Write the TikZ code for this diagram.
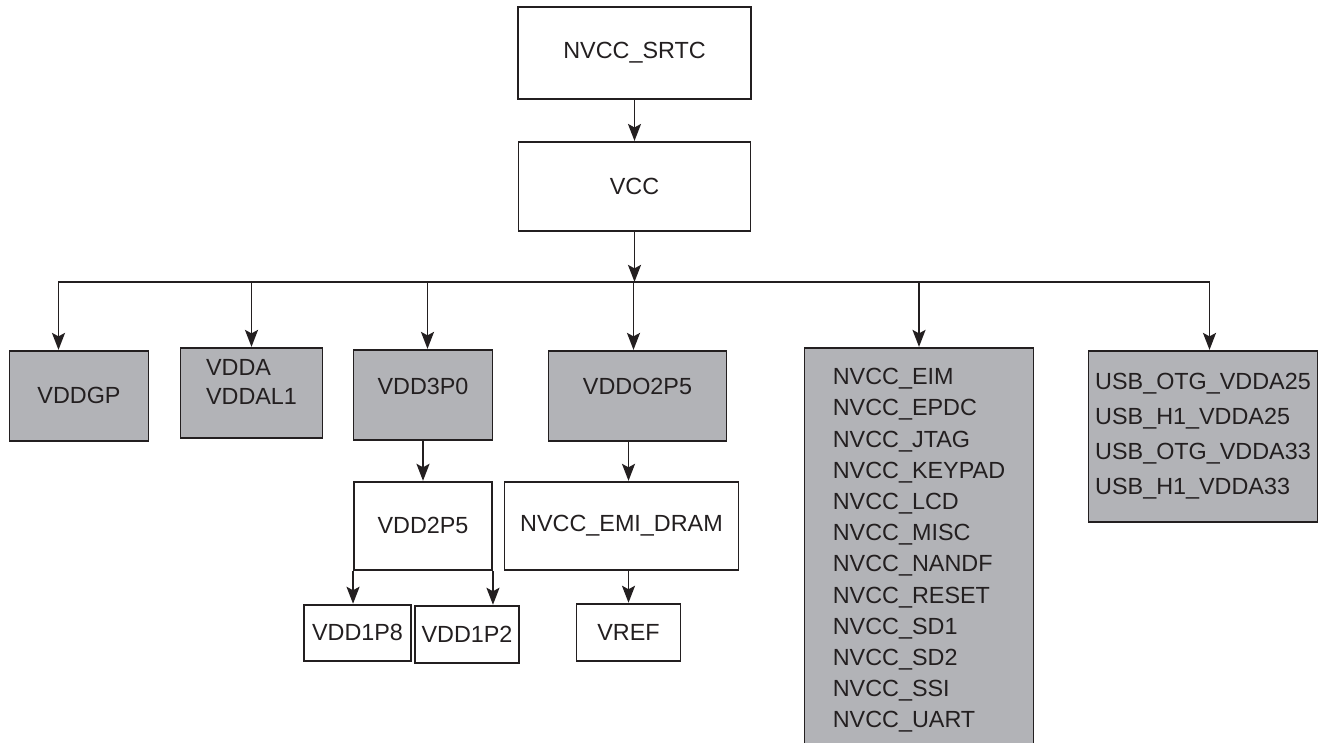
\documentclass[tikz,border=0pt]{standalone}
\usepackage{fontspec}
\setmainfont{Liberation Sans}
\usepackage{xcolor}
\usepackage{tikz}
\usetikzlibrary{arrows.meta, positioning}
\definecolor{railgray}{RGB}{178,179,183}
\definecolor{inkcolor}{RGB}{35,31,32}

\begin{document}
\begin{tikzpicture}[
  node distance=0.8cm,
  box/.style={rectangle, draw=inkcolor, line width=1.1pt, fill=white,
              inner sep=2pt, text=inkcolor,
              font=\fontsize{13.3}{16}\selectfont},
  rail/.style={box, fill=railgray},
  arrow/.style={-{Stealth[length=0.34cm, width=0.26cm, inset=0.07cm]},
                line width=1.1pt, draw=inkcolor},
]
\useasboundingbox (0,0) rectangle (26.36,-14.84);
\clip (0,0) rectangle (26.36,-14.84);

\node[box, minimum width=4.66cm, minimum height=1.84cm, text depth=0.12cm] (srtc) at (12.69,-1.06) {NVCC\_SRTC};
\node[box, minimum width=4.64cm, minimum height=1.78cm, below=0.82cm of srtc] (vcc) {VCC};
\coordinate[below=1.0cm of vcc] (bus);

\node[rail, minimum width=2.78cm, minimum height=1.8cm, below=2.36cm of vcc, xshift=-11.11cm] (vddgp) {VDDGP};
\node[rail, align=left, font=\fontsize{13.3}{16.5}\selectfont, text depth=0.44cm,
      minimum width=2.84cm, minimum height=1.8cm, below=2.30cm of vcc, xshift=-7.66cm] (vdda) {VDDA\\VDDAL1};
\node[rail, minimum width=2.78cm, minimum height=1.8cm, text depth=0.36cm,
      below=2.34cm of vcc, xshift=-4.23cm] (vdd3p0) {VDD3P0};
\node[rail, minimum width=3.56cm, minimum height=1.8cm, text depth=0.38cm,
      below=2.36cm of vcc, xshift=0.06cm] (vddo2p5) {VDDO2P5};
\node[rail, align=left, font=\fontsize{13.3}{17.75}\selectfont,
      minimum width=4.58cm, minimum height=8.1cm, below=2.30cm of vcc, xshift=5.69cm] (nvcc)
     {NVCC\_EIM\\NVCC\_EPDC\\NVCC\_JTAG\\NVCC\_KEYPAD\\NVCC\_LCD\\NVCC\_MISC\\
      NVCC\_NANDF\\NVCC\_RESET\\NVCC\_SD1\\NVCC\_SD2\\NVCC\_SSI\\NVCC\_UART};
\node[rail, align=left, font=\fontsize{13.3}{20}\selectfont,
      minimum width=4.58cm, minimum height=3.42cm, below=2.36cm of vcc, xshift=11.37cm] (usb)
     {USB\_OTG\_VDDA25\\USB\_H1\_VDDA25\\USB\_OTG\_VDDA33\\USB\_H1\_VDDA33};

\node[box, minimum width=2.76cm, minimum height=1.76cm, below=0.8cm of vdd3p0] (vdd2p5) {VDD2P5};
\node[box, minimum width=4.68cm, minimum height=1.76cm, below=0.78cm of vddo2p5, xshift=-0.32cm] (emidram) {NVCC\_EMI\_DRAM};
\node[box, minimum width=2.14cm, minimum height=1.12cm, below=0.66cm of vdd2p5, xshift=-1.31cm] (vdd1p8) {VDD1P8};
\node[box, minimum width=2.08cm, minimum height=1.14cm, below=0.68cm of vdd2p5, xshift=0.88cm] (vdd1p2) {VDD1P2};
\node[box, minimum width=2.08cm, minimum height=1.14cm, below=0.64cm of emidram, xshift=0.14cm] (vref) {VREF};

\draw[arrow] (srtc) -- (vcc);
\draw[arrow] (vcc) -- (bus);
\draw[arrow] (bus) -| ([xshift=-0.41cm]vddgp.north);
\draw[arrow] (bus) -| (vdda);
\draw[arrow] (bus) -| ([xshift=0.09cm]vdd3p0.north);
\draw[arrow] (bus) -| ([xshift=-0.08cm]vddo2p5.north);
\draw[arrow] (bus) -| (nvcc);
\draw[arrow] (bus) -| ([xshift=0.13cm]usb.north);

\draw[arrow] (vdd3p0) -- (vdd2p5);
\draw[arrow] (vddo2p5.south -| vref) -- (emidram.north -| vref);
\draw[arrow] (emidram.south -| vref) -- (vref);
\draw[arrow] (vdd2p5.south west) -- (vdd2p5.south west |- vdd1p8.north);
\draw[arrow] (vdd2p5.south east) -- (vdd2p5.south east |- vdd1p2.north);
\end{tikzpicture}
\end{document}
